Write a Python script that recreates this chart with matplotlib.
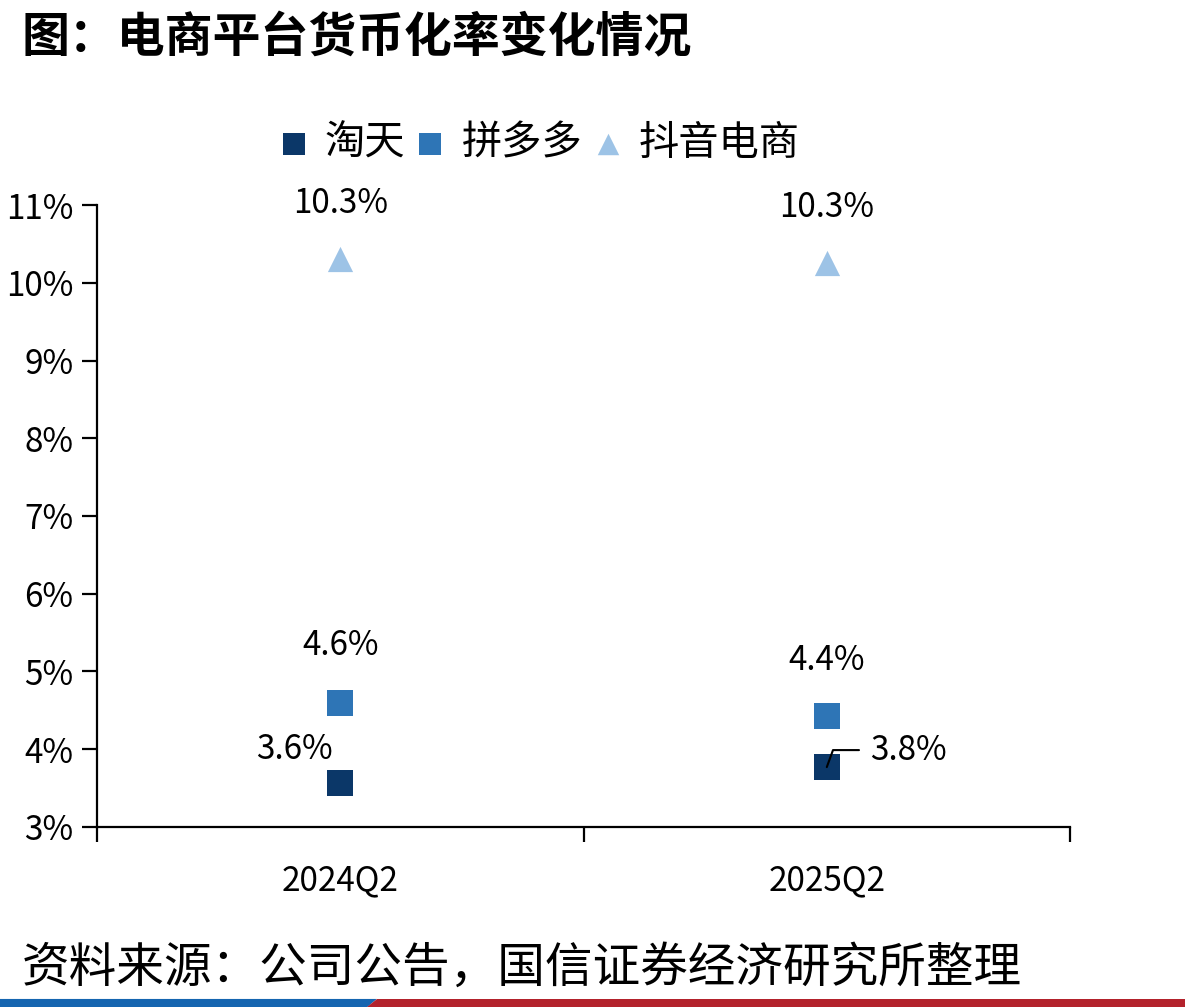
import matplotlib
matplotlib.use("Agg")
import matplotlib.pyplot as plt
from matplotlib.patches import Polygon
from matplotlib.ticker import FuncFormatter, FixedLocator

plt.rcParams["font.family"] = ["Noto Sans CJK SC", "DejaVu Sans"]

quarters = ["2024Q2", "2025Q2"]
series_names = ["淘天", "拼多多", "抖音电商"]
taotian = [3.56, 3.77]
pdd = [4.59, 4.43]
douyin = [10.31, 10.26]
value_labels = {
    "淘天": ["3.6%", "3.8%"],
    "拼多多": ["4.6%", "4.4%"],
    "抖音电商": ["10.3%", "10.3%"],
}

colors = {"淘天": "#0b3768", "拼多多": "#2e75b6", "抖音电商": "#9dc3e6"}
markers = {"淘天": "s", "拼多多": "s", "抖音电商": "^"}

fig = plt.figure(figsize=(11.85, 10.07), dpi=100)
ax = fig.add_axes([0.0819, 0.1788, 0.8211, 0.6176])

xs = [0.5, 1.5]
data = {"淘天": taotian, "拼多多": pdd, "抖音电商": douyin}
for name in series_names:
    ax.scatter(xs, data[name], marker=markers[name], s=330, color=colors[name],
               label=name, zorder=3, linewidths=0)

lab_kw = dict(fontsize=24, ha="center", va="center", color="black")
# 抖音电商
for x, y, t in zip(xs, douyin, value_labels["抖音电商"]):
    ax.annotate(t, (x, y), xytext=(0, 55), textcoords="offset pixels", **lab_kw)
# 拼多多
ax.annotate(value_labels["拼多多"][0], (xs[0], pdd[0]), xytext=(0, 58),
            textcoords="offset pixels", **lab_kw)
ax.annotate(value_labels["拼多多"][1], (xs[1], pdd[1]), xytext=(0, 55),
            textcoords="offset pixels", **lab_kw)
# 淘天
ax.annotate(value_labels["淘天"][0], (xs[0], taotian[0]), xytext=(-46, 34),
            textcoords="offset pixels", **lab_kw)
ax.annotate(value_labels["淘天"][1], (xs[1], taotian[1]), xytext=(82, 17),
            textcoords="offset pixels",
            arrowprops=dict(arrowstyle="-", color="black", lw=1.5,
                            connectionstyle="angle,angleA=0,angleB=70,rad=0",
                            shrinkA=0, shrinkB=0,
                            relpos=(-0.15, 0.5)),
            **lab_kw)

ax.set_xlim(0, 2)
ax.set_ylim(3, 11)
ax.yaxis.set_major_locator(FixedLocator(range(3, 12)))
ax.yaxis.set_major_formatter(FuncFormatter(lambda v, p: f"{v:.0f}%"))
ax.xaxis.set_major_locator(FixedLocator([0, 1, 2]))
ax.xaxis.set_major_formatter(FuncFormatter(lambda v, p: ""))
ax.xaxis.set_minor_locator(FixedLocator(xs))
ax.set_xticklabels(quarters, minor=True)

for side in ["top", "right"]:
    ax.spines[side].set_visible(False)
for side in ["left", "bottom"]:
    ax.spines[side].set_linewidth(1.6)
ax.tick_params(axis="y", length=11, width=1.6, labelsize=24, pad=6)
ax.tick_params(axis="x", which="major", length=11, width=1.6)
ax.tick_params(axis="x", which="minor", length=0, labelsize=24, pad=26)

fig.legend(loc="center", bbox_to_anchor=(0.455, 0.858), ncol=3, frameon=False,
           fontsize=29, handlelength=0.75, handletextpad=0.4, columnspacing=0.25,
           markerscale=0.85, borderpad=0)

fig.text(0.018, 0.962, "图：电商平台货币化率变化情况", fontsize=34.5, fontweight="bold",
         ha="left", va="center")
fig.text(0.018, 0.039, "资料来源：公司公告，国信证券经济研究所整理", fontsize=34.3,
         ha="left", va="center")

# bottom colour band
fig.patches.append(Polygon([(0, 0), (0.31, 0), (0.318, 0.008), (0, 0.008)],
                           closed=True, transform=fig.transFigure,
                           facecolor="#1565b0", edgecolor="none"))
fig.patches.append(Polygon([(0.31, 0), (1, 0), (1, 0.008), (0.318, 0.008)],
                           closed=True, transform=fig.transFigure,
                           facecolor="#b3222c", edgecolor="none"))

fig.savefig("out.png", dpi=100)
